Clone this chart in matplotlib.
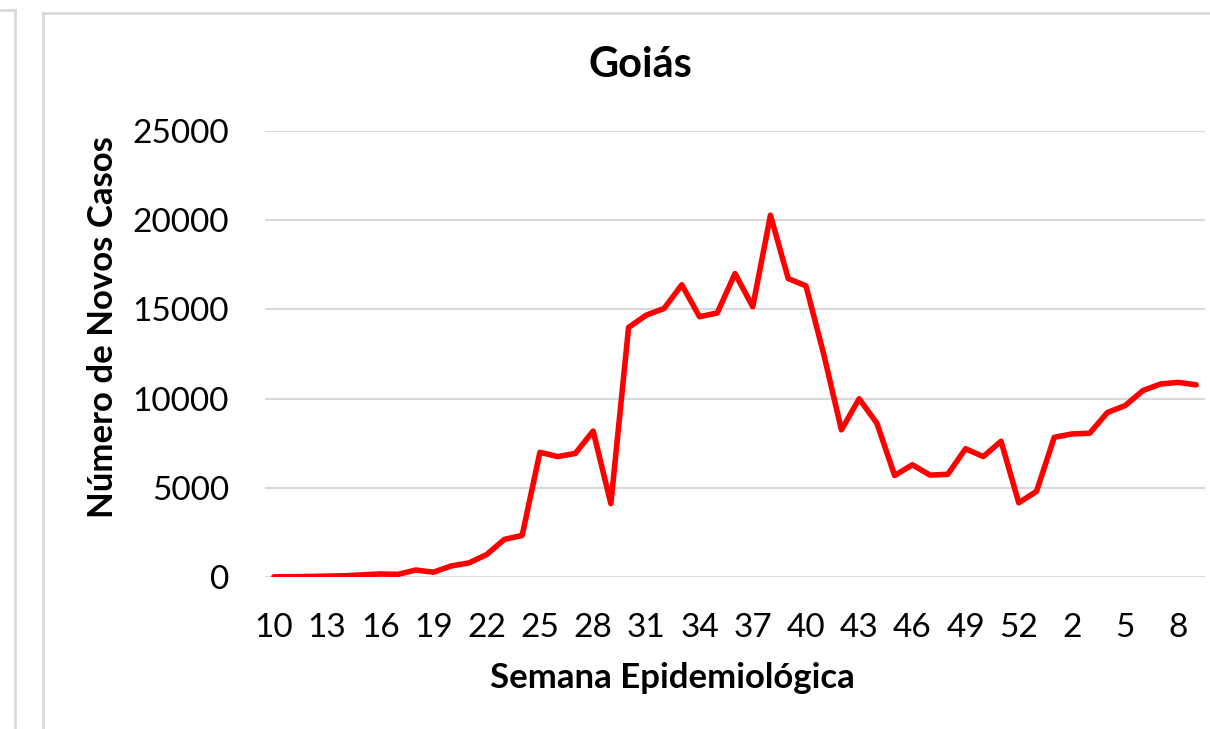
import numpy as np
import matplotlib.pyplot as plt
from matplotlib.lines import Line2D

# semanas epidemiologicas (2020: 10..53, 2021: 1..9)
semanas = list(range(10, 54)) + list(range(1, 10))
casos = [10, 20, 30, 50, 70, 120, 170, 150, 390, 270,
         620, 790, 1260, 2110, 2330, 6990, 6750, 6930, 8180, 4110,
         13990, 14680, 15050, 16380, 14590, 14800, 17010, 15150, 20280, 16730,
         16320, 12500, 8250, 9990, 8620, 5690, 6290, 5710, 5760, 7190,
         6750, 7610, 4160, 4800, 7830, 8020, 8060, 9220, 9610, 10450,
         10820, 10910, 10770]
yticks = [0, 5000, 10000, 15000, 20000, 25000]

plt.rcParams['font.family'] = ['Lato', 'DejaVu Sans']

W, H = 1210, 729
fig = plt.figure(figsize=(W / 100, H / 100), dpi=100)
ax = fig.add_axes([265 / W, 1 - 577 / H, 940 / W, 446 / H])

x = np.arange(len(semanas))
ax.plot(x, casos, color='#ff0000', linewidth=4, solid_joinstyle='round', solid_capstyle='round', zorder=3)

ax.set_xlim(-0.5, len(semanas) - 0.5)
ax.set_ylim(0, 25000)
ax.set_yticks(yticks)
ax.set_yticklabels([str(v) for v in yticks])
ax.set_xticks(x[::3])
ax.set_xticklabels([str(s) for s in semanas[::3]])

ax.grid(axis='y', color='#d9d9d9', linewidth=1.5)
ax.set_axisbelow(True)
for s in ax.spines.values():
    s.set_visible(False)
ax.tick_params(axis='both', length=0, labelsize=24, colors='black')
ax.tick_params(axis='y', pad=26)
ax.tick_params(axis='x', pad=26)

# titulo e rotulos centrados na area do grafico (nao no eixo)
fig.text(640 / W, 1 - 77 / H, 'Goiás', fontsize=30, fontweight='bold', ha='center', va='baseline')
fig.text(672 / W, 1 - 688 / H, 'Semana Epidemiológica', fontsize=25, fontweight='bold', ha='center', va='baseline')
fig.text(103 / W, 1 - 327 / H, 'Número de Novos Casos', fontsize=25, fontweight='bold',
         ha='center', va='center', rotation=90)

# bordas dos paineis (grafico recortado)
border = '#d9d9d9'
fig.add_artist(Line2D([43 / W, 43 / W], [0, 1 - 13 / H], color=border, lw=2, transform=fig.transFigure))
fig.add_artist(Line2D([43 / W, 1], [1 - 13 / H, 1 - 13 / H], color=border, lw=2, transform=fig.transFigure))
fig.add_artist(Line2D([15 / W, 15 / W], [0, 1 - 10 / H], color=border, lw=2, transform=fig.transFigure))
fig.add_artist(Line2D([0, 15 / W], [1 - 10 / H, 1 - 10 / H], color=border, lw=2, transform=fig.transFigure))

fig.savefig('out.png', dpi=100)
